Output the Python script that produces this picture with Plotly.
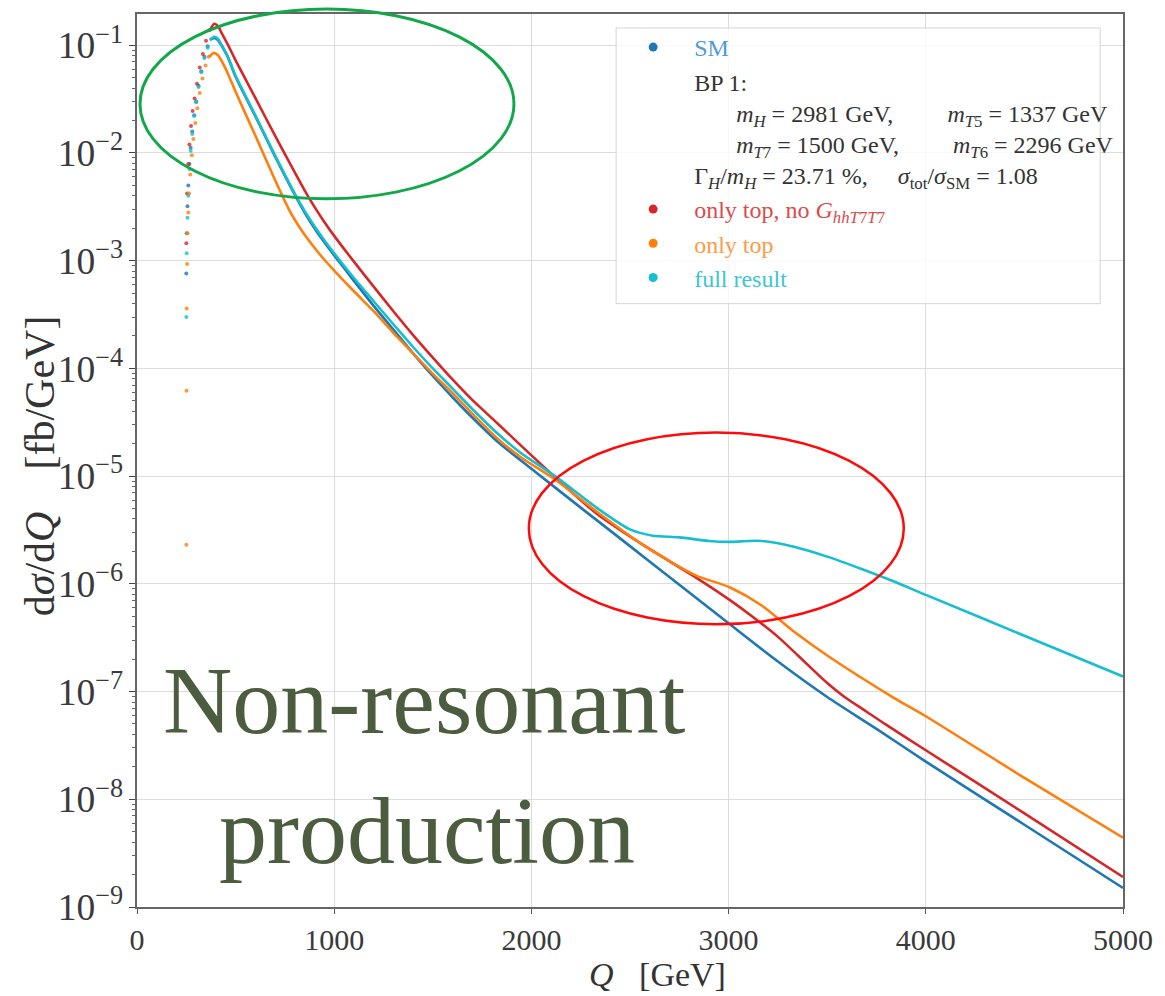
import plotly.graph_objects as go

# ---------------- data ----------------
# rising edge near threshold, drawn as separate dots
q_dots_sm = [250, 252, 256, 260, 266, 272, 280, 290, 300, 312, 326, 342, 358]
y_dots_sm = [7.6e-4, 1.8e-3, 3.2e-3, 5.0e-3, 7.9e-3, 1.12e-2, 1.58e-2, 2.24e-2, 3.0e-2, 4.2e-2, 5.75e-2, 7.8e-2, 9.8e-2]

q_dots_red = [250, 254, 260, 266, 274, 282, 292, 304, 318, 334, 350, 366]
y_dots_red = [1.45e-3, 4.2e-3, 7.9e-3, 1.2e-2, 1.78e-2, 2.45e-2, 3.2e-2, 4.4e-2, 6.2e-2, 8.3e-2, 1.1e-1, 1.38e-1]

q_dots_orange = [250, 251, 252, 254, 256, 260, 264, 270, 278, 286, 296, 306, 318, 332, 348, 364]
y_dots_orange = [2.3e-6, 6.2e-5, 3.6e-4, 9.3e-4, 1.8e-3, 2.8e-3, 4.2e-3, 6.3e-3, 9.5e-3, 1.35e-2,
                 1.9e-2, 2.6e-2, 3.6e-2, 4.9e-2, 6.5e-2, 7.8e-2]

q_dots_full = [250, 252, 256, 260, 266, 272, 280, 290, 300, 312, 326, 342, 358]
y_dots_full = [3.0e-4, 1.17e-3, 2.5e-3, 4.0e-3, 7.1e-3, 1.05e-2, 1.5e-2, 2.2e-2, 2.95e-2, 4.1e-2, 5.6e-2, 7.6e-2, 9.5e-2]

# dense part of the curves
q_sm = [370, 392, 410, 430, 460, 500, 600, 700, 800, 850, 900, 950, 1000, 1100, 1200, 1300, 1400,
        1500, 1600, 1700, 1827, 2000, 2250, 2500, 2750, 3000, 3250, 3500, 3750, 4000, 4500, 5000]
y_sm = [0.112, 0.117, 0.112, 0.098, 0.078, 0.051, 0.0219, 9.3e-3, 4.1e-3, 2.8e-3, 2.0e-3, 1.48e-3,
        1.12e-3, 6.5e-4, 3.8e-4, 2.29e-4, 1.38e-4, 8.5e-5, 5.4e-5, 3.5e-5, 2.1e-5, 1.17e-5, 5.1e-6,
        2.24e-6, 9.8e-7, 4.3e-7, 1.9e-7, 8.9e-8, 4.5e-8, 2.24e-8, 5.8e-9, 1.5e-9]

q_red = [370, 392, 410, 430, 460, 500, 600, 700, 800, 850, 900, 950, 1000, 1100, 1200, 1300, 1400,
         1500, 1600, 1700, 1827, 1950, 2120, 2330, 2582, 2833, 3005, 3125, 3252, 3400, 3500, 3588,
         3700, 3800, 4000, 4500, 5000]
y_red = [0.138, 0.158, 0.151, 0.129, 0.102, 0.0724, 0.0324, 0.0145, 6.6e-3, 4.5e-3, 3.16e-3, 2.29e-3,
         1.70e-3, 9.8e-4, 5.75e-4, 3.39e-4, 2.04e-4, 1.26e-4, 7.9e-5, 5.1e-5, 3.1e-5, 1.9e-5, 9.8e-6,
         4.5e-6, 2.2e-6, 1.15e-6, 7.1e-7, 4.9e-7, 3.2e-7, 1.78e-7, 1.2e-7, 8.9e-8, 6.5e-8, 4.9e-8,
         2.85e-8, 7.4e-9, 1.9e-9]

q_orange = [364, 375, 392, 410, 430, 460, 500, 600, 700, 770, 800, 850, 900, 950, 1000, 1100, 1200,
            1300, 1400, 1500, 1600, 1700, 1827, 1950, 2120, 2330, 2582, 2833, 3005, 3168, 3336, 3504,
            3840, 4000, 4500, 5000]
y_orange = [0.078, 0.081, 0.085, 0.081, 0.071, 0.055, 0.037, 0.0145, 5.6e-3, 3.0e-3, 2.4e-3, 1.74e-3,
            1.32e-3, 1.02e-3, 8.1e-4, 5.2e-4, 3.4e-4, 2.14e-4, 1.38e-4, 8.9e-5, 5.9e-5, 3.8e-5, 2.24e-5,
            1.48e-5, 9.3e-6, 4.7e-6, 2.2e-6, 1.2e-6, 9.3e-7, 6.3e-7, 3.55e-7, 2.14e-7, 8.7e-8, 5.9e-8,
            1.58e-8, 4.4e-9]

q_full = [370, 392, 410, 430, 460, 500, 600, 700, 800, 850, 900, 950, 1000, 1100, 1200, 1300, 1400,
          1500, 1600, 1700, 1827, 1950, 2120, 2330, 2500, 2616, 2750, 2900, 3005, 3100, 3168, 3336,
          3504, 3671, 3839, 4000, 4500, 5000]
y_full = [0.112, 0.120, 0.115, 0.100, 0.079, 0.052, 0.0224, 9.5e-3, 4.2e-3, 2.9e-3, 2.09e-3, 1.55e-3,
          1.17e-3, 6.9e-4, 4.2e-4, 2.57e-4, 1.58e-4, 1.0e-4, 6.5e-5, 4.2e-5, 2.5e-5, 1.62e-5, 1.0e-5,
          5.1e-6, 3.2e-6, 2.8e-6, 2.7e-6, 2.5e-6, 2.45e-6, 2.5e-6, 2.5e-6, 2.2e-6, 1.78e-6, 1.38e-6,
          1.05e-6, 7.9e-7, 3.3e-7, 1.38e-7]

x_ticks = [0, 1000, 2000, 3000, 4000, 5000]
x_tick_labels = ["0", "1000", "2000", "3000", "4000", "5000"]

colors = ["#1f77b4", "#d62728", "#ff7f0e", "#17becf"]
text_colors = ["#4f9bd2", "#dc4a4c", "#ff9a45", "#3cc6d6"]

# ---------------- figure ----------------
W, H = 1165, 996
L, R, T, B = 137, 34, 13, 89


def px(x):
    return (x - L) / (W - L - R)


def py(y):
    return (H - B - y) / (H - T - B)


SERIF = "Liberation Serif, Times New Roman, serif"

fig = go.Figure()

curves = [(q_sm, y_sm, q_dots_sm, y_dots_sm),
          (q_red, y_red, q_dots_red, y_dots_red),
          (q_orange, y_orange, q_dots_orange, y_dots_orange),
          (q_full, y_full, q_dots_full, y_dots_full)]

for (qc, yc, qd, yd), col in zip(curves, colors):
    fig.add_trace(go.Scatter(x=qd, y=yd, mode="markers", showlegend=False,
                             marker=dict(color=col, size=4, opacity=0.8, line=dict(width=0)),
                             hoverinfo="skip"))
    fig.add_trace(go.Scatter(x=qc, y=yc, mode="lines", showlegend=False,
                             line=dict(color=col, width=2.6, shape="spline", smoothing=0.7),
                             hoverinfo="skip"))

# legend entries
nb = "\u00a0"
bp_text = ("BP 1:<br>"
           + nb * 7 + "<i>m</i><sub><i>H</i></sub> = 2981 GeV," + nb * 9
           + "<i>m</i><sub><i>T</i>5</sub> = 1337 GeV<br>"
           + nb * 7 + "<i>m</i><sub><i>T</i>7</sub> = 1500 GeV," + nb * 9
           + "<i>m</i><sub><i>T</i>6</sub> = 2296 GeV<br>"
           + "\u0393<sub><i>H</i></sub>/<i>m</i><sub><i>H</i></sub> = 23.71 %," + nb * 5
           + "<i>\u03c3</i><sub>tot</sub>/<i>\u03c3</i><sub>SM</sub> = 1.08")

legend_items = [
    (f'<span style="color:{text_colors[0]}">SM</span>', colors[0], 9),
    (bp_text, "rgba(0,0,0,0)", 1),
    (f'<span style="color:{text_colors[1]}">only top, no <i>G</i><sub><i>hhT</i>7<i>T</i>7</sub></span>', colors[1], 9),
    (f'<span style="color:{text_colors[2]}">only top</span>', colors[2], 9),
    (f'<span style="color:{text_colors[3]}">full result</span>', colors[3], 9),
]
for name, col, size in legend_items:
    fig.add_trace(go.Scatter(x=[None], y=[None], mode="markers", name=name,
                             marker=dict(color=col, size=size)))

shapes = [
    # legend frame
    dict(type="rect", xref="paper", yref="paper", x0=px(620), x1=px(1108), y0=py(303), y1=py(27),
         fillcolor="rgba(255,255,255,0.8)", line=dict(color="#d4d4d4", width=1), layer="above"),
    # green ellipse
    dict(type="circle", xref="paper", yref="paper", x0=px(140), x1=px(517), y0=py(198), y1=py(8),
         line=dict(color="#12a84a", width=3), layer="above"),
    # red ellipse
    dict(type="circle", xref="paper", yref="paper", x0=px(532), x1=px(910), y0=py(624), y1=py(432),
         line=dict(color="#ff0a0a", width=2.5), layer="above"),
]

annotations = [
    dict(text="Non-resonant", xref="paper", yref="paper", x=px(427), y=py(700), showarrow=False,
         xanchor="center", yanchor="middle", font=dict(family=SERIF, size=96, color="#4c5d3f")),
    dict(text="production", xref="paper", yref="paper", x=px(429), y=py(830), showarrow=False,
         xanchor="center", yanchor="middle", font=dict(family=SERIF, size=96, color="#4c5d3f")),
    # axis titles
    dict(text="<i>Q</i>" + nb * 3 + "[GeV]", xref="paper", yref="paper", x=px(662), y=py(975),
         showarrow=False, xanchor="center", yanchor="middle",
         font=dict(family=SERIF, size=34, color="#333333")),
    dict(text="d<i>\u03c3</i>/d<i>Q</i>" + nb * 4 + "[fb/GeV]", xref="paper", yref="paper",
         x=px(40), y=py(465), textangle=-90, showarrow=False, xanchor="center", yanchor="middle",
         font=dict(family=SERIF, size=42, color="#333333")),
]

fig.update_layout(
    width=W, height=H,
    margin=dict(l=L, r=R, t=T, b=B),
    paper_bgcolor="white", plot_bgcolor="white",
    font=dict(family=SERIF, color="#333333"),
    shapes=shapes, annotations=annotations,
    legend=dict(x=px(616), y=py(24), xanchor="left", yanchor="top",
                bgcolor="rgba(0,0,0,0)", borderwidth=0, itemwidth=72,
                font=dict(family=SERIF, size=24, color="#333333"),
                tracegroupgap=0, valign="middle", itemclick=False),
    showlegend=True,
)

fig.update_xaxes(
    range=[0, 5000], tickvals=x_ticks, ticktext=x_tick_labels,
    showgrid=True, gridcolor="#dcdcdc", gridwidth=1.2,
    showline=True, linecolor="#666666", linewidth=1.5, mirror=True,
    ticks="outside", ticklen=5, tickcolor="#555555",
    tickfont=dict(family=SERIF, size=30, color="#3a3a3a"),
    zeroline=False,
)

fig.update_yaxes(
    type="log", range=[-9, -0.71], dtick=1, exponentformat="power", showexponent="all",
    showgrid=True, gridcolor="#dcdcdc", gridwidth=1.2,
    showline=True, linecolor="#666666", linewidth=1.5, mirror=True,
    ticks="outside", ticklen=6, tickcolor="#444444",
    minor=dict(ticks="outside", ticklen=3, tickcolor="#666666", showgrid=False),
    tickfont=dict(family=SERIF, size=30, color="#3a3a3a"),
    zeroline=False,
)

fig.write_html("out.html")
